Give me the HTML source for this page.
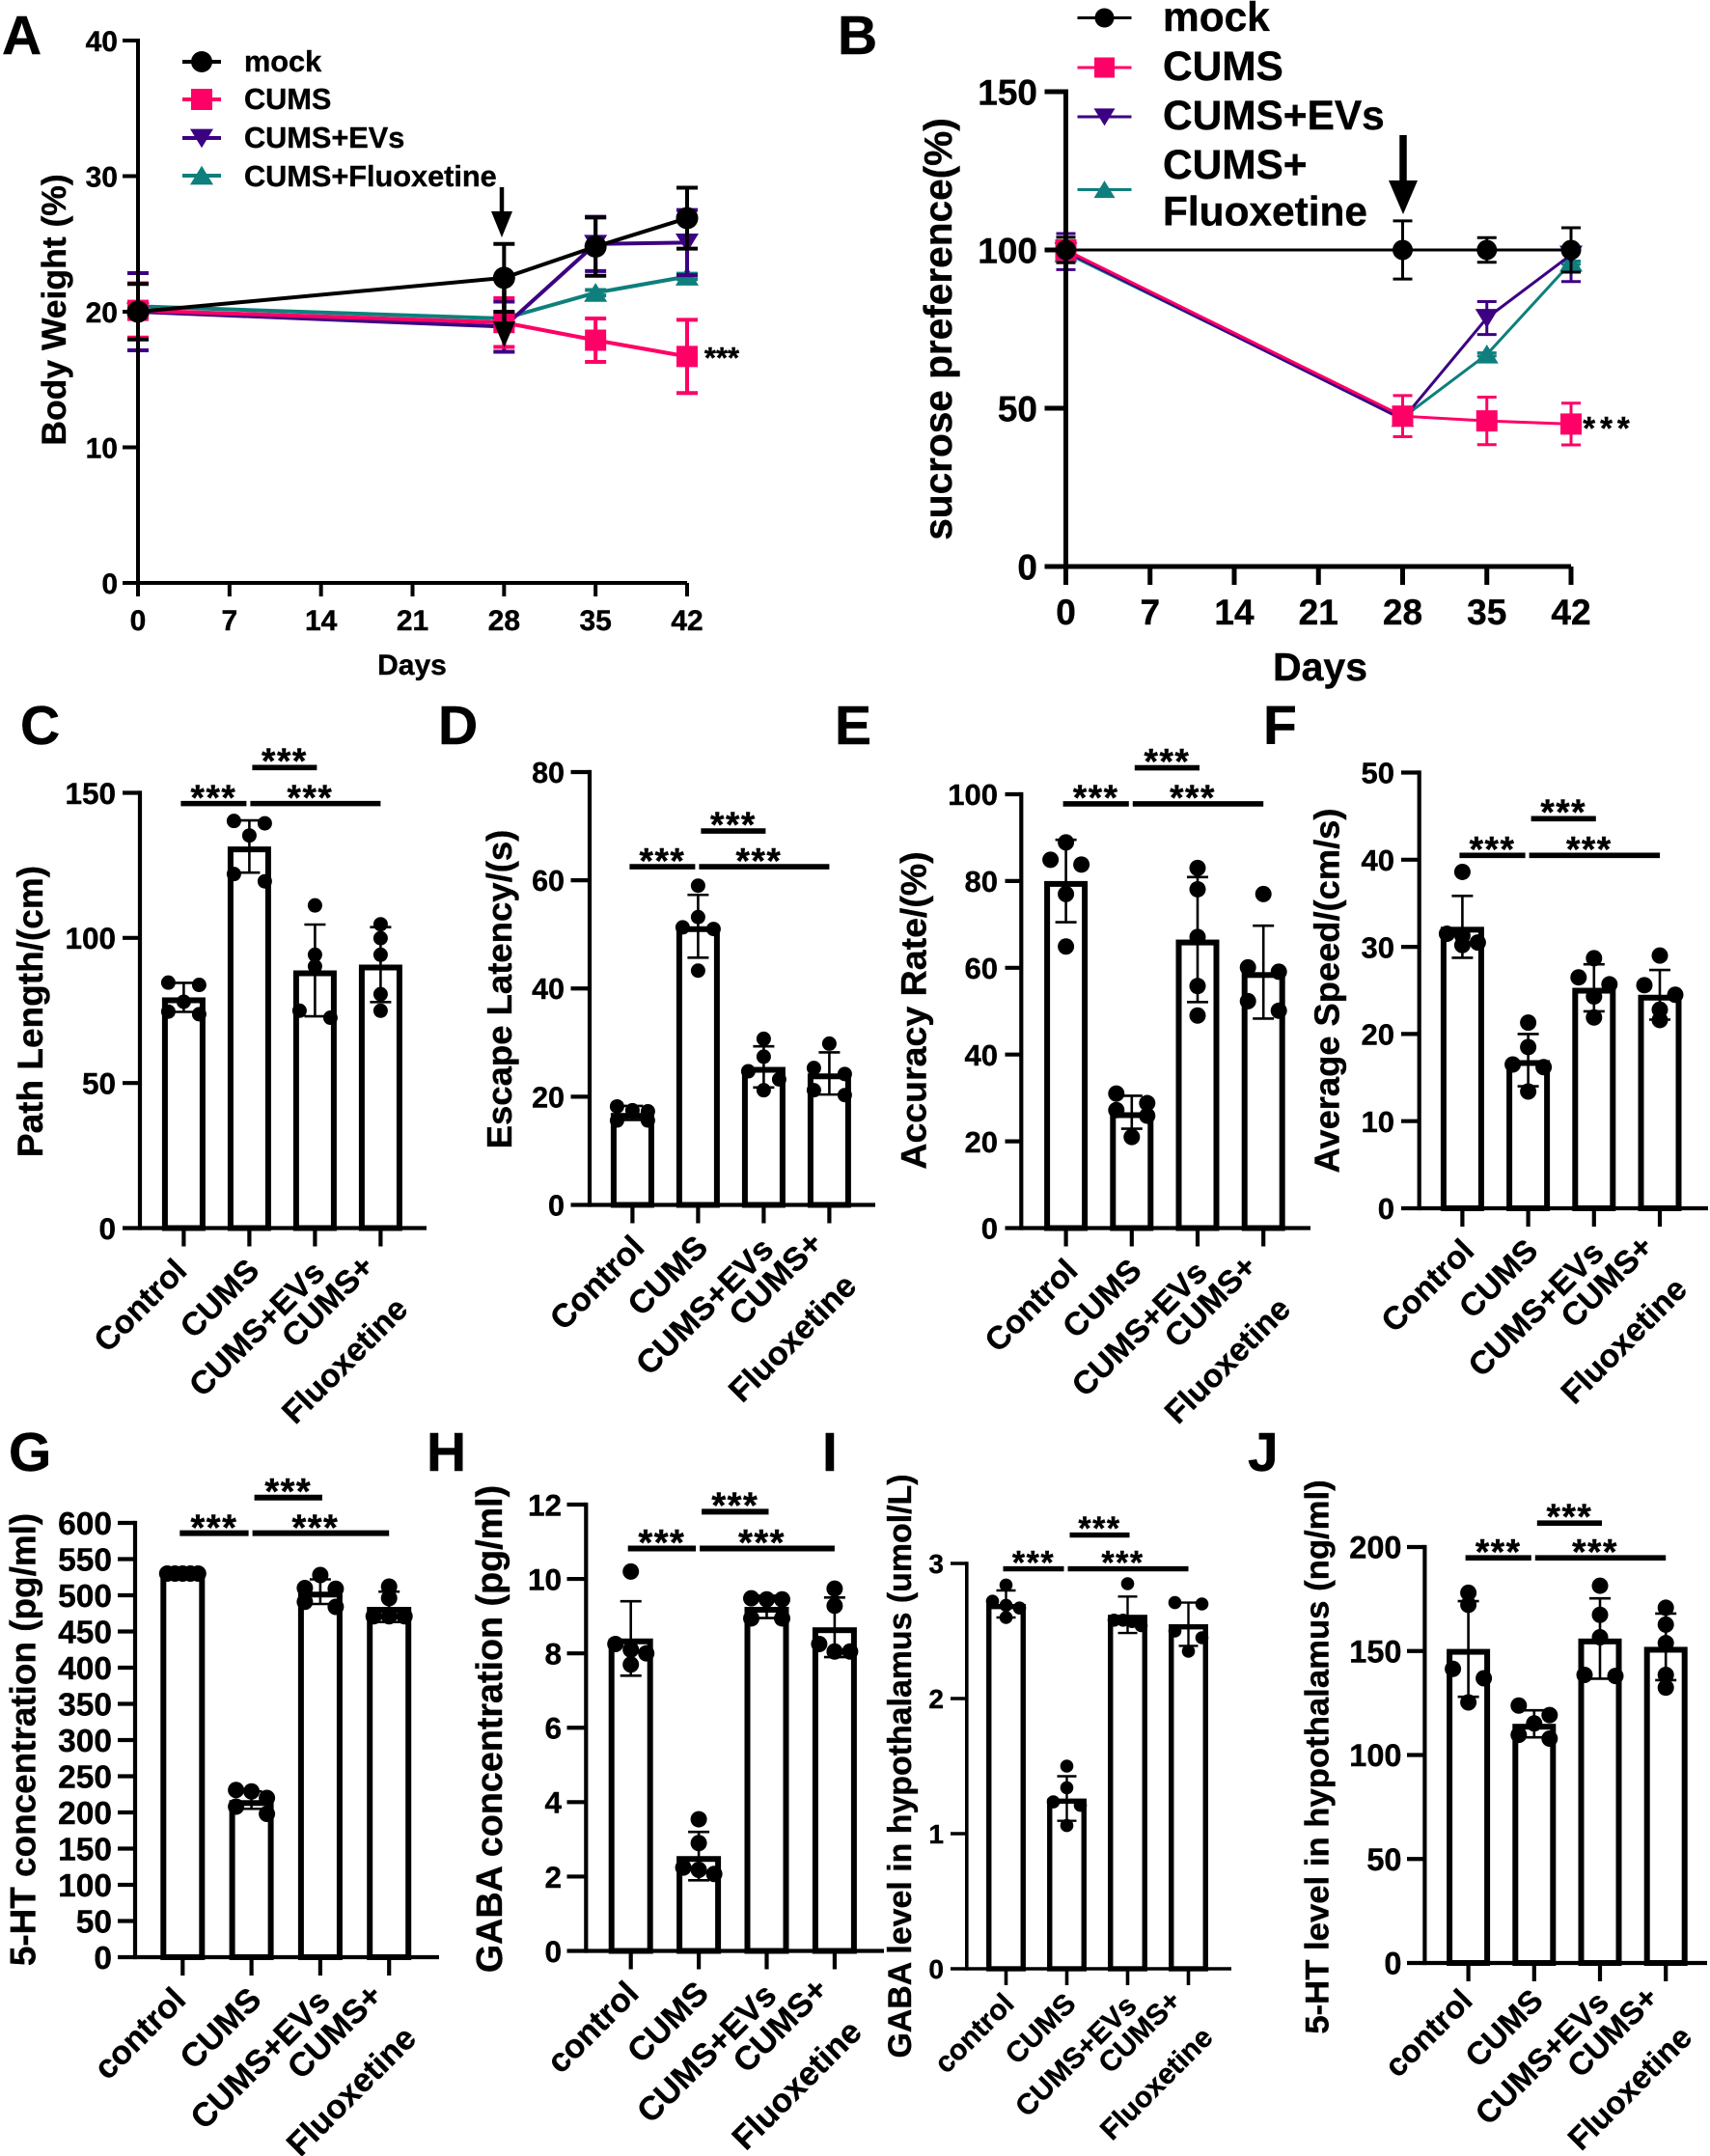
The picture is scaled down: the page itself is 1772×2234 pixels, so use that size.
<!DOCTYPE html>
<html lang="en">
<head>
<meta charset="utf-8">
<title>Behavioural and neurotransmitter panels A-J</title>
<style>
html,body{margin:0;padding:0;background:#fff;}
svg{display:block;}
text{font-family:"Liberation Sans",Arial,sans-serif;font-weight:700;fill:#000;stroke:#000;stroke-width:0.4px;}
</style>
</head>
<body>
<svg id="figure" xmlns="http://www.w3.org/2000/svg" width="1772" height="2234" viewBox="0 0 1772 2234"></svg>
<script>
/* ---------- shared labels ---------- */
const dayCategories = [0, 7, 14, 21, 28, 35, 42];
const seriesNames = ['mock', 'CUMS', 'CUMS+EVs', 'CUMS+Fluoxetine'];
const groupLabelsUpper = ['Control', 'CUMS', 'CUMS+EVs', 'CUMS+', 'Fluoxetine'];
const groupLabelsLower = ['control', 'CUMS', 'CUMS+EVs', 'CUMS+', 'Fluoxetine'];

/* ---------- panel A ---------- */
const aDays = [0, 28, 35, 42];
const aTicks = [0, 10, 20, 30, 40];
const aMock = [20, 22.5, 24.8, 26.9];
const aMockErr = [2.05, 2.5, 2.15, 2.25];
const aCums = [20.1, 19.2, 17.9, 16.7];
const aCumsErr = [2, 1.8, 1.6, 2.7];
const aEvs = [20, 18.9, 25, 25.1];
const aEvsErr = [2.85, 1.85, 2, 2.4];
const aFluox = [20.4, 19.5, 21.4, 22.6];
const aFluoxErr = [0.2, 0.2, 0.2, 0.2];

/* ---------- panel B ---------- */
const bDays = [0, 28, 35, 42];
const bTicks = [0, 50, 100, 150];
const bMock = [100, 100, 100, 100];
const bMockErr = [4, 9.2, 3.9, 7];
const bCums = [100, 47.5, 46, 45];
const bCumsErr = [4, 6.5, 7.5, 6.6];
const bEvs = [99.5, 46.5, 78.5, 98.5];
const bEvsErr = [5.7, 1, 5.2, 8.5];
const bFluox = [99, 47, 67, 96];
const bFluoxErr = [0.5, 0.5, 0.5, 0.5];

/* ---------- panel C ---------- */
const cTicks = [0, 50, 100, 150];
const cMeans = [79.5, 131.5, 88.8, 90.8];
const cSds = [5, 9, 15.8, 12.9];
const cDots = [[84.6, 83.8, 78, 74.6, 73.7], [140.3, 139.5, 135.3, 122, 119.5], [111.2, 94.2, 90.2, 74.9, 72.5], [104.7, 99.9, 94.2, 80.6, 74.9]];
const cSig = [146.3, 158.7];

/* ---------- panel D ---------- */
const dTicks = [0, 20, 40, 60, 80];
const dMeans = [17, 51.5, 25.5, 24.3];
const dSds = [1.3, 5.8, 3.8, 3.9];
const dDots = [[18.2, 17.5, 17.3, 15.6, 15.6], [59, 53.2, 51.3, 51, 43.3], [30.7, 27.4, 24.7, 23.2, 21.2], [29.8, 25.3, 24.2, 21.2, 20.3]];
const dSig = [62.5, 69.1];

/* ---------- panel E ---------- */
const eTicks = [0, 20, 40, 60, 80, 100];
const eMeans = [80, 26.7, 66.5, 59];
const eSds = [9.5, 3.8, 14.4, 10.7];
const eDots = [[88.9, 84.9, 83.8, 77, 64.9], [31, 28.8, 27.2, 25.9, 21], [83, 78.1, 67.1, 55.8, 49], [77, 60.1, 59.1, 52.3, 50.1]];
const eSig = [97.8, 106.1];

/* ---------- panel F ---------- */
const fTicks = [0, 10, 20, 30, 40, 50];
const fMeans = [32.3, 17, 25.3, 24.5];
const fSds = [3.55, 3, 2.7, 2.85];
const fDots = [[38.6, 31.5, 31.3, 30.5, 30.2], [21.3, 18.5, 16.5, 16.2, 13.4], [28.7, 26.5, 25.7, 24.3, 21.9], [29, 25.6, 24.5, 22.8, 21.6]];
const fSig = [40.5, 44.7];

/* ---------- panel G ---------- */
const gTicks = [0, 50, 100, 150, 200, 250, 300, 350, 400, 450, 500, 550, 600];
const gMeans = [530, 217, 505, 484];
const gSds = [3, 12, 17, 21];
const gDots = [[530, 530, 530, 530, 530], [231, 229, 220, 208, 198], [528, 510, 509, 491, 484], [512, 496, 471, 471, 471]];
const gSig = [585.8, 635];

/* ---------- panel H ---------- */
const hTicks = [0, 2, 4, 6, 8, 10, 12];
const hMeans = [8.4, 2.55, 9.25, 8.7];
const hSds = [1, 0.65, 0.3, 0.8];
const hDots = [[10.2, 8.25, 8.1, 8, 7.7], [3.54, 2.9, 2.24, 2.18, 2.07], [9.48, 9.45, 9.45, 8.94, 8.94], [9.74, 9.28, 8.25, 8.05, 8.05]];
const hSig = [10.82, 11.81];

/* ---------- panel I ---------- */
const iTicks = [0, 1, 2, 3];
const iMeans = [2.7, 1.26, 2.62, 2.55];
const iSds = [0.1, 0.165, 0.135, 0.16];
const iDots = [[2.84, 2.72, 2.69, 2.67, 2.6], [1.5, 1.34, 1.235, 1.21, 1.06], [2.85, 2.58, 2.58, 2.57, 2.54], [2.71, 2.7, 2.5, 2.45, 2.35]];
const iSig = [2.96, 3.21];

/* ---------- panel J ---------- */
const jTicks = [0, 50, 100, 150, 200];
const jMeans = [151, 115, 156, 152];
const jSds = [23, 6.5, 19.3, 16];
const jDots = [[178, 172.2, 141.4, 136.9, 125.3], [123.8, 119.2, 115.2, 109.7, 107.9], [181.4, 167.4, 156.6, 138.5, 138], [170.8, 162.7, 153.8, 138.5, 132.4]];
const jSig = [194.8, 211.5];

/* ---------- helpers ---------- */
const NS = 'http://www.w3.org/2000/svg';
const svg = document.getElementById('figure');
const COL = {mock: '#000000', cums: '#ff0066', evs: '#3c0082', fluox: '#0e7f7c'};

function mk(tag, attrs, name, parent) {
  const el = document.createElementNS(NS, tag);
  for (const k in attrs) el.setAttribute(k, attrs[k]);
  
  
  (parent || svg).appendChild(el);
  return el;
}
function group(name) { return mk('g', {}, name); }
function line(x1, y1, x2, y2, w, col, name, parent) {
  return mk('line', {x1: x1, y1: y1, x2: x2, y2: y2, stroke: col || '#000', 'stroke-width': w}, name, parent);
}
function txt(x, y, str, fs, anchor, rot, name, parent) {
  const el = mk('text', {x: 0, y: 0, 'font-size': fs, 'text-anchor': anchor || 'start',
    transform: 'translate(' + x + ' ' + y + ')' + (rot ? ' rotate(' + rot + ')' : '')}, name, parent);
  el.textContent = str;
  return el;
}
function stars(cx, cy, fs, gap, name, parent) {
  const el = txt(cx, cy + 0.48 * fs, '***', fs, 'middle', 0, name, parent);
  if (gap) el.setAttribute('letter-spacing', gap);
  return el;
}
function marker(kind, x, y, s, col, name, parent) {
  if (kind === 'circle') return mk('circle', {cx: x, cy: y, r: s, fill: col}, name, parent);
  if (kind === 'square') return mk('rect', {x: x - s, y: y - s, width: 2 * s, height: 2 * s, fill: col}, name, parent);
  if (kind === 'down') return mk('polygon', {points: (x - s) + ',' + (y - s * 0.78) + ' ' + (x + s) + ',' + (y - s * 0.78) + ' ' + x + ',' + (y + s * 0.85), fill: col}, name, parent);
  return mk('polygon', {points: (x - s) + ',' + (y + s * 0.78) + ' ' + (x + s) + ',' + (y + s * 0.78) + ' ' + x + ',' + (y - s * 0.85), fill: col}, name, parent);
}
function arrow(x, y1, yBase, yTip, shaftW, headW, name, parent) {
  line(x, y1, x, yBase + 1, shaftW, '#000', name + '-shaft', parent);
  mk('polygon', {points: (x - headW / 2) + ',' + yBase + ' ' + (x + headW / 2) + ',' + yBase + ' ' + x + ',' + yTip, fill: '#000'}, name + '-head', parent);
}

/* ---------- line panels ---------- */
function linePanel(p) {
  const g = group(p.id + '-line-chart');
  const yS = v => p.y0 - v * (p.y0 - p.yTop) / p.yMax;
  const xS = d => p.x0 + d * (p.x42 - p.x0) / 42;
  txt(p.letter[1], p.letter[2], p.letter[0], 57, 'start', 0, p.id + '-panel-label', g);

  p.series.forEach(function (s) {
    const sg = mk('g', {}, p.id + '-series-' + s.key, g);
    const pts = p.days.map((d, i) => xS(d) + ',' + yS(s.vals[i])).join(' ');
    mk('polyline', {points: pts, fill: 'none', stroke: s.col, 'stroke-width': p.lw}, p.id + '-line-' + s.key, sg);
    p.days.forEach(function (d, i) {
      const x = xS(d), hi = yS(s.vals[i] + s.errs[i]), lo = yS(s.vals[i] - s.errs[i]);
      line(x, hi, x, lo, p.lw, s.col, p.id + '-error-bar-' + s.key, sg);
      line(x - p.cap, hi, x + p.cap, hi, p.lw, s.col, p.id + '-error-cap-' + s.key, sg);
      line(x - p.cap, lo, x + p.cap, lo, p.lw, s.col, p.id + '-error-cap-' + s.key, sg);
      marker(s.mark, x, yS(s.vals[i]), s.size, s.col, p.id + '-point-' + s.key, sg);
    });
  });

  line(p.x0, p.yTop - p.axW / 2, p.x0, p.y0 + p.axW / 2, p.axW, '#000', p.id + '-y-axis', g);
  line(p.x0, p.y0, p.x42, p.y0, p.axW, '#000', p.id + '-x-axis', g);
  p.ticks.forEach(function (t) {
    line(p.tickL, yS(t), p.x0, yS(t), p.axW, '#000', p.id + '-y-tick', g);
    txt(p.labR, yS(t) + p.tickFs * 0.36, String(t), p.tickFs, 'end', 0, p.id + '-y-tick-label', g);
  });
  dayCategories.forEach(function (d) {
    line(xS(d), p.y0, xS(d), p.tickB, p.axW, '#000', p.id + '-x-tick', g);
    txt(xS(d), p.xLabY, String(d), p.tickFs, 'middle', 0, p.id + '-x-tick-label', g);
  });
  txt(p.title[1], p.title[2], p.title[0], p.title[3], 'middle', -90, p.id + '-y-axis-title', g);
  txt(p.xTitle[0], p.xTitle[1], 'Days', p.xTitle[2], 'middle', 0, p.id + '-x-axis-title', g);

  p.legend.forEach(function (l, i) {
    const s = p.series[i];
    const lg = mk('g', {}, p.id + '-legend-entry-' + s.key, g);
    line(p.legX1, l.y, p.legX2, l.y, p.lw, s.col, p.id + '-legend-line', lg);
    marker(s.mark, (p.legX1 + p.legX2) / 2, l.y, s.legSize, s.col, p.id + '-legend-marker', lg);
    l.lines.forEach(function (ln) {
      txt(p.legText, ln[1], ln[0], p.legFs, 'start', 0, p.id + '-legend-label', lg);
    });
  });
  p.arrows.forEach(function (a, i) {
    arrow(a[0], a[1], a[2], a[3], a[4], a[5], p.id + '-arrow-' + (i + 1), g);
  });
  stars(p.star[0], p.star[1], p.star[2], p.star[3], p.id + '-significance-stars', g);
}

linePanel({
  id: 'a', letter: ['A', 2, 56], days: aDays, ticks: aTicks, yMax: 40,
  x0: 143, x42: 712, yTop: 42, y0: 604, tickL: 127, tickB: 618, labR: 122, xLabY: 653,
  tickFs: 30, axW: 4, lw: 4, cap: 11,
  title: ['Body Weight (%)', 68, 321, 35.5], xTitle: [427, 699, 30],
  legX1: 189, legX2: 229, legText: 253, legFs: 30.7,
  series: [
    {key: 'fluoxetine', vals: aFluox, errs: aFluoxErr, col: COL.fluox, mark: 'up', size: 12, legSize: 12},
    {key: 'cums-evs', vals: aEvs, errs: aEvsErr, col: COL.evs, mark: 'down', size: 12, legSize: 12},
    {key: 'cums', vals: aCums, errs: aCumsErr, col: COL.cums, mark: 'square', size: 11, legSize: 11},
    {key: 'mock', vals: aMock, errs: aMockErr, col: COL.mock, mark: 'circle', size: 11.5, legSize: 11}
  ],
  legend: [
    {y: 182, lines: [[seriesNames[3], 193]]},
    {y: 143, lines: [[seriesNames[2], 153]]},
    {y: 103, lines: [[seriesNames[1], 113]]},
    {y: 64, lines: [[seriesNames[0], 74]]}
  ],
  arrows: [[520, 194, 219, 246, 4.5, 22], [522.5, 287, 333, 360, 4.5, 23]],
  star: [748, 366, 31, 0]
});

linePanel({
  id: 'b', letter: ['B', 868, 56], days: bDays, ticks: bTicks, yMax: 150,
  x0: 1104.5, x42: 1628, yTop: 95, y0: 587, tickL: 1082.5, tickB: 606, labR: 1075, xLabY: 647,
  tickFs: 37, axW: 5, lw: 3, cap: 10,
  title: ['sucrose preference(%)', 986, 341, 40.6], xTitle: [1368, 705, 41],
  legX1: 1116.5, legX2: 1172.5, legText: 1205, legFs: 42.4,
  series: [
    {key: 'fluoxetine', vals: bFluox, errs: bFluoxErr, col: COL.fluox, mark: 'up', size: 12, legSize: 11},
    {key: 'cums-evs', vals: bEvs, errs: bEvsErr, col: COL.evs, mark: 'down', size: 12, legSize: 11},
    {key: 'cums', vals: bCums, errs: bCumsErr, col: COL.cums, mark: 'square', size: 11, legSize: 10.5},
    {key: 'mock', vals: bMock, errs: bMockErr, col: COL.mock, mark: 'circle', size: 10.5, legSize: 10}
  ],
  legend: [
    {y: 196.5, lines: [['CUMS+', 185], ['Fluoxetine', 233.5]]},
    {y: 121, lines: [[seriesNames[2], 134]]},
    {y: 70, lines: [[seriesNames[1], 83]]},
    {y: 18.5, lines: [[seriesNames[0], 32]]}
  ],
  arrows: [[1454, 140, 187, 222, 7.5, 30]],
  star: [1667, 439, 33, 5]
});

/* ---------- bar panels ---------- */
function swarm(values, yS, spread, thresh) {
  const sorted = values.slice().sort((a, b) => b - a);
  const groups = [];
  sorted.forEach(function (v) {
    const last = groups[groups.length - 1];
    if (last && yS(v) - yS(last[0]) < thresh) last.push(v);
    else groups.push([v]);
  });
  const out = [];
  groups.forEach(function (gr) {
    gr.forEach(function (v, i) {
      const off = gr.length === 1 ? 0 : -spread + i * 2 * spread / (gr.length - 1);
      out.push({off: off, val: v});
    });
  });
  return out;
}

function barPanel(p) {
  const g = group(p.id + '-bar-chart');
  const yS = v => p.y0 - v * (p.y0 - p.yTop) / p.yMax;
  const xS = i => p.cx0 + i * p.dx;
  txt(p.letter[1], p.letter[2], p.letter[0], 57, 'start', 0, p.id + '-panel-label', g);

  p.means.forEach(function (m, i) {
    const bg = mk('g', {}, p.id + '-group-' + i, g);
    const barTop = yS(m) + p.barS / 2;
    mk('rect', {x: xS(i) - p.barW / 2, y: barTop, width: p.barW, height: p.y0 - barTop, fill: '#fff', stroke: '#000', 'stroke-width': p.barS}, p.id + '-bar-' + i, bg);
    swarm(p.dots[i], yS, p.spread, p.thresh).forEach(function (d) {
      mk('circle', {cx: xS(i) + d.off, cy: yS(d.val), r: p.dotR, fill: '#000'}, p.id + '-data-point', bg);
    });
    const hi = yS(m + p.sds[i]), lo = yS(m - p.sds[i]);
    line(xS(i), hi, xS(i), lo, p.errW, '#000', p.id + '-error-bar-' + i, bg);
    line(xS(i) - p.cap, hi, xS(i) + p.cap, hi, p.errW, '#000', p.id + '-error-cap-' + i, bg);
    line(xS(i) - p.cap, lo, xS(i) + p.cap, lo, p.errW, '#000', p.id + '-error-cap-' + i, bg);
  });

  line(p.x0, p.yTop - p.axW / 2, p.x0, p.y0 + p.axW / 2, p.axW, '#000', p.id + '-y-axis', g);
  line(p.x0, p.y0, p.xEnd, p.y0, p.axW, '#000', p.id + '-x-axis', g);
  p.ticks.forEach(function (t) {
    line(p.tickL, yS(t), p.x0, yS(t), p.axW, '#000', p.id + '-y-tick', g);
    txt(p.labR, yS(t) + p.tickFs * 0.36, String(t), p.tickFs, 'end', 0, p.id + '-y-tick-label', g);
  });
  p.means.forEach(function (m, i) {
    line(xS(i), p.y0, xS(i), p.y0 + p.tickLen, p.axW, '#000', p.id + '-x-tick-' + i, g);
  });
  const L = p.labels;
  txt(xS(0) + p.lab[0] + p.ctrlDx, p.y0 + p.lab[1], L[0], p.labFs, 'end', -45, p.id + '-x-label-0', g);
  txt(xS(1) + p.lab[0] - 2, p.y0 + p.lab[1], L[1], p.labFs, 'end', -45, p.id + '-x-label-1', g);
  txt(xS(2) + p.lab[0] - 2, p.y0 + p.lab[1] + 2, L[2], p.labFs, 'end', -45, p.id + '-x-label-2', g);
  txt(xS(3) + p.lab[2], p.y0 + p.lab[3], L[3], p.labFs, 'end', -45, p.id + '-x-label-3-line-1', g);
  txt(xS(3) + p.lab[4], p.y0 + p.lab[5], L[4], p.labFs, 'end', -45, p.id + '-x-label-3-line-2', g);
  txt(p.title[1], p.title[2], p.title[0], p.title[3], 'middle', -90, p.id + '-y-axis-title', g);

  const yLow = yS(p.sig[0]), yUp = yS(p.sig[1]);
  line(xS(0) - 3, yLow, xS(1) - 3, yLow, p.sigW, '#000', p.id + '-significance-bar-control', g);
  line(xS(1) + 1, yLow, xS(3), yLow, p.sigW, '#000', p.id + '-significance-bar-treatments', g);
  line(xS(1) + 3, yUp, xS(2) + 2, yUp, p.sigW, '#000', p.id + '-significance-bar-evs', g);
  stars((xS(0) + xS(1)) / 2 - 3, yLow - 11.5, p.starFs, 1.5, p.id + '-stars-control', g);
  stars((xS(1) + xS(3)) / 2 - 5, yLow - 11.5, p.starFs, 1.5, p.id + '-stars-treatments', g);
  stars((xS(1) + xS(2)) / 2 + 2.5, yUp - 12, p.starFs, 1.5, p.id + '-stars-evs', g);
}

const barBase = {barS: 6, dotR: 7.5, errW: 2.6, cap: 11, axW: 4.2, tickLen: 19, spread: 16, thresh: 10, sigW: 5.6, starFs: 37,
  labFs: 33.5, lab: [14, 46, -5, 42, 30, 86], ctrlDx: 0};

barPanel(Object.assign({}, barBase, {
  id: 'c', letter: ['C', 21, 771], means: cMeans, sds: cSds, dots: cDots, sig: cSig, ticks: cTicks, yMax: 150,
  x0: 145, xEnd: 442, yTop: 821.5, y0: 1272.5, tickL: 127, labR: 120, tickFs: 31.5,
  cx0: 190.4, dx: 68, barW: 39, labels: groupLabelsUpper, ctrlDx: -9,
  title: ['Path Length/(cm)', 44, 1048, 37]
}));
barPanel(Object.assign({}, barBase, {
  id: 'd', letter: ['D', 454, 771], means: dMeans, sds: dSds, dots: dDots, sig: dSig, ticks: dTicks, yMax: 80,
  x0: 611, xEnd: 907, yTop: 800, y0: 1248.5, tickL: 591.5, labR: 585, tickFs: 30.5,
  cx0: 655.4, dx: 68, barW: 39, labels: groupLabelsUpper, labFs: 34,
  title: ['Escape Latency/(s)', 530, 1025, 36.5]
}));
barPanel(Object.assign({}, barBase, {
  id: 'e', letter: ['E', 865, 771], means: eMeans, sds: eSds, dots: eDots, sig: eSig, ticks: eTicks, yMax: 100, dotR: 8.5,
  x0: 1058.3, xEnd: 1358, yTop: 823, y0: 1272.5, tickL: 1041.5, labR: 1034, tickFs: 31,
  cx0: 1104.6, dx: 68.2, barW: 39, labels: groupLabelsUpper,
  title: ['Accuracy Rate/(%)', 959.5, 1047, 37.5]
}));
barPanel(Object.assign({}, barBase, {
  id: 'f', letter: ['F', 1309, 771], means: fMeans, sds: fSds, dots: fDots, sig: fSig, ticks: fTicks, yMax: 50, dotR: 8.5,
  x0: 1470.7, xEnd: 1770, yTop: 800.5, y0: 1252, tickL: 1452, labR: 1445, tickFs: 31,
  cx0: 1515.4, dx: 68.2, barW: 39, labels: groupLabelsUpper,
  title: ['Average Speed/(cm/s)', 1387.5, 1026.5, 36.3]
}));
barPanel(Object.assign({}, barBase, {
  id: 'g', letter: ['G', 9, 1524], means: gMeans, sds: gSds, dots: gDots, sig: gSig, ticks: gTicks, yMax: 600, dotR: 8.5,
  x0: 140, xEnd: 455, yTop: 1578, y0: 2028, tickL: 122, labR: 116, tickFs: 33.5,
  cx0: 189.3, dx: 71.3, barW: 40, labels: groupLabelsLower, starFs: 38, sigW: 6, labFs: 34.5, ctrlDx: -9,
  title: ['5-HT concentration (pg/ml)', 36.5, 1802.5, 36.9]
}));
barPanel(Object.assign({}, barBase, {
  id: 'h', letter: ['H', 442, 1524], means: hMeans, sds: hSds, dots: hDots, sig: hSig, ticks: hTicks, yMax: 12, dotR: 8.5,
  x0: 607.3, xEnd: 916, yTop: 1559, y0: 2021.5, tickL: 587.5, labR: 582, tickFs: 31.5,
  cx0: 653.7, dx: 70.4, barW: 40, labels: groupLabelsLower, starFs: 38, sigW: 6, labFs: 34.5, ctrlDx: -4,
  title: ['GABA concentration (pg/ml)', 520, 1791.5, 37.7]
}));
barPanel(Object.assign({}, barBase, {
  id: 'i', letter: ['I', 852, 1524], means: iMeans, sds: iSds, dots: iDots, sig: iSig, ticks: iTicks, yMax: 3,
  x0: 1001.8, xEnd: 1276, yTop: 1620, y0: 2040, tickL: 985, labR: 978, tickFs: 28, axW: 3.6, barS: 5.4, dotR: 6.8, errW: 2.4, cap: 10,
  cx0: 1042.5, dx: 63, barW: 35.5, labels: groupLabelsLower, starFs: 34, sigW: 5.4, spread: 14, thresh: 9, tickLen: 17,
  labFs: 30, lab: [13, 38, -6, 35, 27, 73], ctrlDx: -3,
  title: ['GABA level in hypothalamus (umol/L)', 944, 1830, 33.9]
}));
barPanel(Object.assign({}, barBase, {
  id: 'j', letter: ['J', 1293, 1524], means: jMeans, sds: jSds, dots: jDots, sig: jSig, ticks: jTicks, yMax: 200, dotR: 8.5,
  x0: 1476.4, xEnd: 1769, yTop: 1603, y0: 2034, tickL: 1458, labR: 1452.5, tickFs: 32.5,
  cx0: 1521.6, dx: 68.2, barW: 39, labels: groupLabelsLower,
  labFs: 33, lab: [13, 41, -6, 38, 29, 79], ctrlDx: -7,
  title: ['5-HT level in hypothalamus (ng/ml)', 1376.5, 1820.5, 34.7]
}));
</script>
</body>
</html>
